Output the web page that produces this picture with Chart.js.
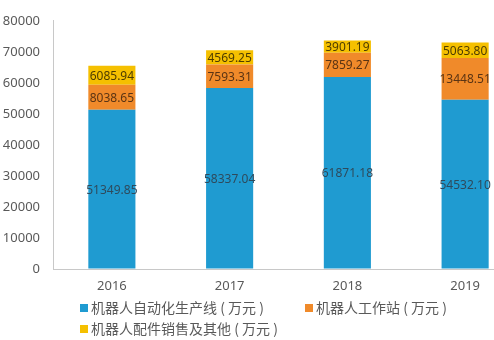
<!DOCTYPE html>
<html>
<head>
<meta charset="utf-8">
<script src="https://cdn.jsdelivr.net/npm/chart.js@4/dist/chart.umd.min.js"></script>
<style>
  html, body { margin: 0; padding: 0; background: #fff; overflow: hidden; width: 494px; height: 340px; }
  #wrap { position: absolute; left: 0; top: 0; width: 524px; height: 300px; }
  .legend-item { position: absolute; font: 14px "Noto Sans CJK SC", sans-serif; color: #595959; white-space: nowrap; line-height: 16px; }
  .legend-item span { display: inline-block; width: 8px; height: 8px; margin-right: 3px; vertical-align: 1px; }
</style>
</head>
<body>
<div id="wrap"><canvas id="c"></canvas></div>
<div id="legend"></div>
<script>
// 年份
const jahre = ["2016", "2017", "2018", "2019"];
// 各业务收入（万元）
const linie = [51349.85, 58337.04, 61871.18, 54532.10];
const station = [8038.65, 7593.31, 7859.27, 13448.51];
const sonstige = [6085.94, 4569.25, 3901.19, 5063.80];
const namen = ["机器人自动化生产线 ( 万元 )", "机器人工作站 ( 万元 )", "机器人配件销售及其他 ( 万元 )"];
const yTicks = [0, 10000, 20000, 30000, 40000, 50000, 60000, 70000, 80000];

const farben = ["#1f9bd1", "#f08a2a", "#f5c000"];
const textFarben = ["#2e4a5c", "#5a3414", "#4d3c00"];

// Legende als html, zeilen links ausgerichtet
const legendPos = [[80, 299], [305, 299], [80, 320]];
namen.forEach((n, i) => {
  const d = document.createElement("div");
  d.className = "legend-item";
  d.style.left = legendPos[i][0] + "px";
  d.style.top = legendPos[i][1] + "px";
  d.innerHTML = '<span style="background:' + farben[i] + '"></span>' + n;
  document.getElementById("legend").appendChild(d);
});

// werte mittig in die segmente schreiben
const wertePlugin = {
  id: "werte",
  afterDatasetsDraw(chart) {
    const ctx = chart.ctx;
    ctx.save();
    ctx.font = '12px "Noto Sans", sans-serif';
    ctx.textAlign = "center";
    ctx.textBaseline = "middle";
    chart.data.datasets.forEach((ds, di) => {
      const meta = chart.getDatasetMeta(di);
      ctx.fillStyle = textFarben[di];
      meta.data.forEach((bar, i) => {
        const p = bar.getProps(["x", "y", "base"], true);
        ctx.fillText(ds.data[i].toFixed(2), p.x, (p.y + p.base) / 2 + 1);
      });
    });
    ctx.restore();
  }
};

new Chart(document.getElementById("c"), {
  type: "bar",
  data: {
    labels: jahre,
    datasets: [
      { label: namen[0], data: linie, backgroundColor: farben[0] },
      { label: namen[1], data: station, backgroundColor: farben[1] },
      { label: namen[2], data: sonstige, backgroundColor: farben[2] }
    ]
  },
  plugins: [wertePlugin],
  options: {
    responsive: true,
    maintainAspectRatio: false,
    animation: false,
    layout: { padding: { top: 20, right: 0, left: 0, bottom: 0 } },
    datasets: { bar: { categoryPercentage: 1, barPercentage: 0.4 } },
    plugins: { legend: { display: false }, tooltip: { enabled: false } },
    scales: {
      x: {
        stacked: true,
        grid: { drawOnChartArea: false, drawTicks: false },
        border: { display: true, color: "#c8c8c8" },
        ticks: { color: "#595959", font: { size: 13, family: "Noto Sans" }, padding: 9 },
        afterFit: (s) => { s.height = 31; }
      },
      y: {
        stacked: true,
        min: 0,
        max: 80000,
        afterBuildTicks: (s) => { s.ticks = yTicks.map(v => ({ value: v })); },
        grid: { drawOnChartArea: false, drawTicks: false },
        border: { display: true, color: "#c8c8c8" },
        ticks: {
          color: "#595959",
          font: { size: 13, family: "Noto Sans" },
          padding: 13,
          callback: (v) => String(v)
        },
        afterFit: (s) => { s.width = 53; }
      }
    }
  }
});
</script>
</body>
</html>
